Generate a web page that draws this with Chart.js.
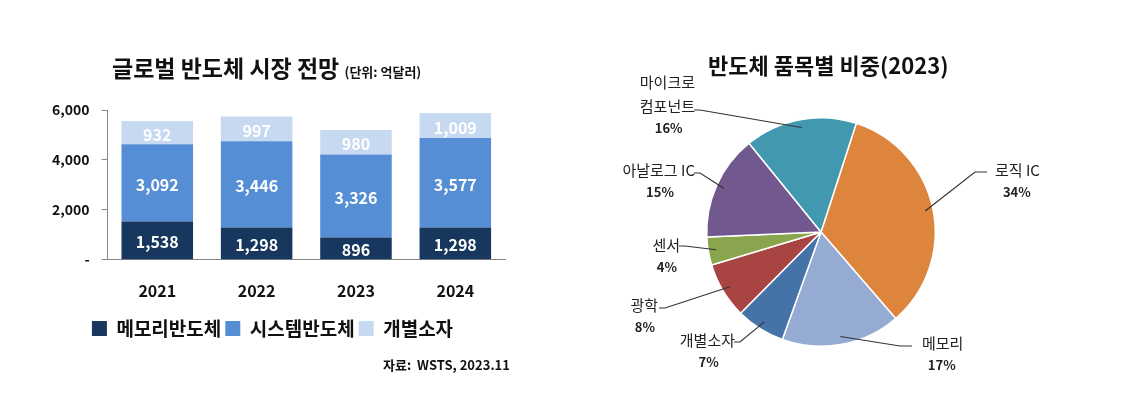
<!DOCTYPE html>
<html><head><meta charset="utf-8">
<script src="https://cdn.jsdelivr.net/npm/chart.js@4/dist/chart.umd.min.js"></script>
<style>
body{margin:0;width:1122px;height:420px;background:#fff;position:relative;font-family:"Noto Sans CJK KR","Noto Sans",sans-serif;overflow:hidden}
.t{position:absolute;font-weight:bold;color:#111;white-space:nowrap}
#c1{position:absolute;left:0;top:0}
#c2{position:absolute;left:560px;top:0}
</style></head><body>
<canvas id="c1" width="560" height="420"></canvas>
<canvas id="c2" width="562" height="420"></canvas>
<div class="t" style="left:112px;top:50px;font-size:23px">글로벌 반도체 시장 전망 <span style="font-size:13px">(단위: 억달러)</span></div>
<div class="t" style="left:383px;top:355px;font-size:13px">자료:&nbsp; WSTS, 2023.11</div>
<div class="t" style="left:708px;top:48px;font-size:22px">반도체 품목별 비중(2023)</div>
<script>
const years=['2021','2022','2023','2024'];
const memory=[1538,1298,896,1298];
const system=[3092,3446,3326,3577];
const discrete=[932,997,980,1009];
const seriesNames=['메모리반도체','시스템반도체','개별소자'];
const yTicks=[0,2000,4000,6000];

const pieLabels=['로직 IC','메모리','개별소자','광학','센서','아날로그 IC','마이크로\n컴포넌트'];
const pieValues=[34,17,7,8,4,15,16];

const F="'Noto Sans CJK KR','Noto Sans',sans-serif";
const fmt=v=>v.toLocaleString('en-US');

const barLabels={id:'bl',afterDatasetsDraw(c){const x=c.ctx;x.save();x.fillStyle='#fff';x.font='bold 16px '+F;x.textAlign='center';x.textBaseline='middle';
c.data.datasets.forEach((d,i)=>c.getDatasetMeta(i).data.forEach((b,j)=>{x.fillText(fmt(d.data[j]),b.x,(b.y+b.base)/2+2);}));x.restore();}};

new Chart(document.getElementById('c1'),{type:'bar',
data:{labels:years,datasets:[
{label:seriesNames[0],data:memory,backgroundColor:'#17375e'},
{label:seriesNames[1],data:system,backgroundColor:'#558ed5'},
{label:seriesNames[2],data:discrete,backgroundColor:'#c6d9f1'}]},
options:{responsive:false,animation:false,layout:{padding:{top:110,right:55,bottom:72,left:40}},
plugins:{legend:{position:'bottom',labels:{boxWidth:15,boxHeight:15,padding:4,color:'#111',font:{family:F,size:19,weight:'bold'}}},tooltip:{enabled:false}},
scales:{x:{stacked:true,barPercentage:0.72,categoryPercentage:1,grid:{display:false},border:{color:'#888'},ticks:{color:'#111',padding:14,font:{family:F,size:16,weight:'bold'}}},
y:{stacked:true,min:0,max:6000,afterBuildTicks:a=>{a.ticks=yTicks.map(v=>({value:v}));},grid:{drawOnChartArea:false,drawTicks:true,tickLength:6,color:'#888'},border:{color:'#888'},
ticks:{color:'#111',padding:12,font:{family:F,size:14,weight:'bold'},callback:v=>v===0?'-':fmt(v)}}}},
plugins:[barLabels]});

const lay=[
 {e:[975,172],t:[995,170],a:'left'},
 {e:[900,346],t:[922,343],a:'left'},
 {e:[740,342],t:[735,340],a:'right'},
 {e:[665,308],t:[658,305],a:'right'},
 {e:[685,246],t:[680,245],a:'right'},
 {e:[700,173],t:[695,170],a:'right'},
 {e:[700,110],t:[695,106],a:'right'}];
const pieLab={id:'pl',afterDatasetsDraw(c){const x=c.ctx;x.save();
c.getDatasetMeta(0).data.forEach((arc,i)=>{const m=(arc.startAngle+arc.endAngle)/2;const r=arc.outerRadius*0.93;
const sx=arc.x+Math.cos(m)*r,sy=arc.y+Math.sin(m)*r;const L=lay[i];const ex=L.e[0]-560,ey=L.e[1];
x.strokeStyle='#333';x.lineWidth=1.2;x.beginPath();x.moveTo(sx,sy);x.lineTo(ex,ey);x.lineTo(L.a==='left'?ex+12:ex-6,ey);x.stroke();
x.fillStyle='#222';x.textBaseline='middle';const lines=pieLabels[i].split('\n');
let tx=L.t[0]-560,ty=L.t[1]-(lines.length-1)*24;
x.font='15px '+F;x.textAlign=L.a==='left'?'left':'right';
lines.forEach((s,k)=>x.fillText(s,tx,ty+k*24));
x.font='bold 13px '+F;x.textAlign='center';
const w=Math.max(...lines.map(s=>x.measureText(s).width))*1.1;
x.fillText(pieValues[i]+'%',L.a==='left'?tx+w/2:tx-w/2,L.t[1]+22);});x.restore();}};

new Chart(document.getElementById('c2'),{type:'pie',
data:{labels:pieLabels,datasets:[{data:pieValues,backgroundColor:['#dd853c','#95abd3','#4572a7','#a84543','#89a54e','#71588f','#4198af'],borderColor:'#fff',borderWidth:1.5}]},
options:{responsive:false,animation:false,rotation:18,layout:{padding:{left:146,right:186,top:117,bottom:73}},
plugins:{legend:{display:false},tooltip:{enabled:false}}},plugins:[pieLab]});
</script></body></html>
